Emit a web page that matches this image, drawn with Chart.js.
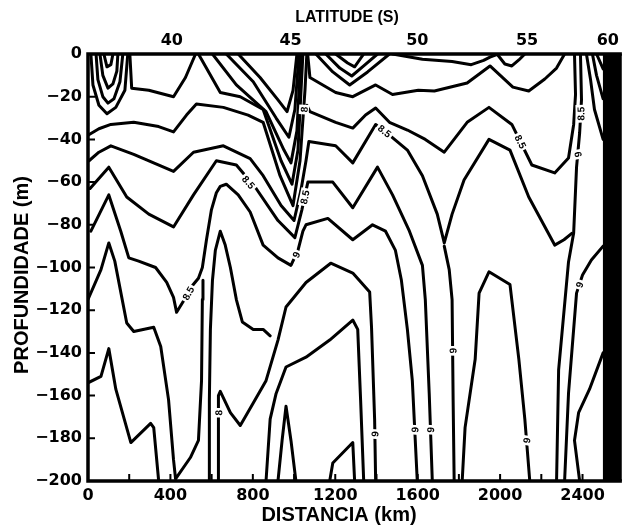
<!DOCTYPE html>
<html lang="pt">
<head>
<meta charset="UTF-8">
<title>Secção vertical - isotermas</title>
<script src="https://cdn.jsdelivr.net/npm/chart.js"></script>
<style>
    body { margin: 0; padding: 0; background: #fff; }
    #wrap { width: 623px; height: 529px; }
</style>
</head>
<body>
<div id="wrap"><canvas id="grafico" width="623" height="529"></canvas></div>
<script>
// eixos
const distTicks = [0, 400, 800, 1200, 1600, 2000, 2400];
const tickMarksKm = [200, 400, 600, 800, 1000, 1200, 1400, 1600, 1800, 2000, 2200, 2400];
const depthTicks = [0, -20, -40, -60, -80, -100, -120, -140, -160, -180, -200];
const latLabels = ['40', '45', '50', '55', '60'];
const latKm = [407, 983, 1598, 2131, 2523];
const xMax = 2591;
const terrenoKm = [2498, 2591];

// isolinhas [distancia km, profundidade m]
const eddy1a = [[14,0],[24,-14.5],[53,-24],[92,-28],[135,-25],[179,-17],[193,0]];
const eddy1b = [[39,0],[48,-12],[72,-20],[97,-23],[126,-21],[155,-13],[169,0]];
const eddy1c = [[58,0],[72,-10],[97,-16],[121,-14],[140,-8],[145,0]];
const eddy1d = [[77,0],[92,-6],[111,-5],[121,0]];
const isoA = [[203,0],[212,-16],[295,-17],[415,-20],[473,-11],[522,0]];
const eddy2a = [[729,0],[835,-11],[922,-21.5],[966,-27],[995,-17],[1014,0]];
const eddy2b = [[671,0],[802,-13],[913,-30],[975,-39],[1004,-26],[1024,0]];
const eddy2c = [[604,0],[720,-14.5],[864,-27],[951,-45],[985,-51],[1014,-36],[1033,0]];
const eddy2d = [[536,0],[642,-18],[739,-20],[850,-26],[937,-50],[990,-61],[1019,-45],[1043,0]];
const isoB = [[0,-38],[53,-35],[111,-33],[222,-32],[343,-34],[415,-36.5],[478,-28.6],[526,-23.4],[657,-25],[777,-28.6],[850,-32],[932,-57],[995,-71],[1029,-50],[1053,-17],[1062,0]];
const isoC = [[5,-50],[53,-46],[111,-43],[222,-47],[415,-55],[512,-46],[657,-43],[787,-49],[850,-57],[937,-71],[1000,-78],[1033,-64],[1058,-50],[1072,-41],[1202,-43],[1285,-51],[1396,-33],[1463,-38],[1550,-45],[1623,-57],[1695,-75],[1729,-88.5],[1767,-75],[1825,-59],[1946,-40],[2048,-45],[2139,-67],[2265,-89.5],[2310,-87],[2348,-84]];
const isoD = [[10,-63],[101,-53],[188,-67],[295,-75],[415,-81],[512,-66],[623,-50],[720,-52],[816,-63],[922,-78],[1004,-86],[1038,-73],[1067,-60],[1188,-60],[1285,-72],[1405,-53],[1478,-66],[1560,-83],[1623,-99],[1637,-115],[1656,-159],[1671,-200]];
const isoE = [[14,-83],[101,-66],[159,-83],[198,-95.5],[246,-97],[328,-100],[382,-107],[415,-114],[430,-121],[468,-115],[502,-109],[536,-105],[555,-100],[575,-87],[599,-73],[623,-65],[642,-62],[671,-61],[729,-66],[787,-74],[850,-89.5],[922,-95.5],[985,-99],[1019,-92],[1043,-83],[1058,-80],[1164,-77],[1285,-87],[1381,-80],[1444,-83],[1492,-92],[1521,-106],[1550,-129],[1574,-153],[1598,-200]];
const isoF = [[0,-115],[63,-101],[101,-88.5],[130,-97],[188,-126],[222,-130],[319,-128],[353,-137],[391,-162],[415,-190],[425,-199],[497,-189],[536,-181],[551,-153],[555,-115],[558,-106]];
const isoG = [[0,-154],[63,-151],[101,-138],[135,-157],[208,-182],[304,-173],[319,-175],[343,-200]];
const spikeA = [[589,-200],[589,-162],[594,-129],[604,-106],[618,-92],[642,-83],[666,-89.5],[691,-100],[720,-115],[749,-125.5],[802,-129],[850,-129],[884,-132]];
const domeA = [[633,-200],[633,-175],[633,-160],[642,-158],[691,-168],[739,-174],[802,-163.5],[864,-153],[922,-134],[961,-118.5],[1058,-107],[1178,-98],[1285,-102.6],[1367,-111.5],[1376,-128],[1391,-171],[1396,-200]];
const domeB = [[864,-200],[884,-171],[913,-159],[961,-146.6],[1058,-142],[1173,-134],[1285,-124.6],[1309,-129],[1323,-162],[1338,-200]];
const spikeB = [[922,-200],[942,-181],[961,-165],[985,-181],[1009,-200]];
const spikeC = [[1173,-200],[1188,-191.6],[1285,-182],[1294,-200]];
const isoY = [[1729,-90],[1753,-101],[1767,-115],[1772,-162],[1777,-200]];
const domeC = [[1816,-200],[1830,-175],[1879,-143],[1898,-112],[1946,-102],[2048,-108],[2091,-143],[2120,-171],[2144,-200]];
const isoR1 = [[1066,0],[1077,-11],[1202,-18],[1285,-20],[1396,-14.5],[1478,-19],[1603,-17],[1681,-17.3],[1840,-13.6],[1951,-5.6],[2062,-15.5],[2139,-17.3],[2217,-11.7],[2274,-6.6],[2313,0]];
const isoR2 = [[1062,-24],[1077,-27],[1202,-32],[1285,-34.7],[1347,-28.6],[1396,-25.3],[1463,-32],[1550,-35.6],[1637,-40],[1729,-46],[1840,-32],[1946,-25],[2057,-33],[2154,-52],[2265,-55.7],[2332,-48.7],[2357,-33],[2366,-19],[2361,0]];
const eddy3a = [[1106,0],[1188,-8.4],[1270,-14.5],[1357,-8.4],[1463,0]];
const eddy3b = [[1154,0],[1222,-6.6],[1280,-10.3],[1338,-5.6],[1405,0]];
const eddy3c = [[1202,0],[1260,-4.2],[1294,-6],[1338,0]];
const isoT = [[1478,0],[1623,-2.5],[1767,-3.5],[1860,-5],[1920,-3],[1951,-1.5],[1990,0]];
const eddy4 = [[1985,0],[2023,-4.7],[2057,-5.6],[2091,-2.8],[2120,0]];
const isoS1 = [[2274,-200],[2284,-148],[2332,-97.4],[2357,-83.8],[2371,-53],[2386,-37],[2395,-21.5],[2390,0]];
const isoS2 = [[2313,-200],[2332,-159],[2371,-112],[2400,-103.5],[2443,-96.5],[2500,-90]];
const isoS3 = [[2386,-200],[2361,-181],[2381,-168],[2434,-157],[2500,-140]];
const isoS4 = [[2419,0],[2439,-12],[2458,-26],[2500,-40]];
const isoS5 = [[2448,0],[2468,-10],[2500,-21]];
const isoS6 = [[2468,0],[2500,-7]];

// rotulos das isolinhas [km, m, texto, angulo]
const rotulos = [
    [780, -60, '8.5', 0.87], [1051, -67, '8.5', -1.36], [1010, -94, '9', -1.13],
    [485, -112, '8.5', -1.07], [1440, -36, '8.5', 0.66], [2100, -41, '8.5', 1.11],
    [2391, -28, '8.5', -1.6], [2377, -47, '9', -1.75], [2385, -108, '9', -1.25],
    [633, -168, '8', -1.57], [1392, -178, '9', -1.5], [1586, -176, '9', -1.5],
    [1662, -176, '9', -1.52], [1770, -139, '9', -1.55], [2128, -181, '9', -1.4],
    [1048, -26, '8', -1.5]
];

const contornos = [eddy1a, eddy1b, eddy1c, eddy1d, isoA, eddy2a, eddy2b, eddy2c, eddy2d,
    isoB, isoC, isoD, isoE, isoF, isoG, spikeA, domeA, domeB, spikeB, spikeC, isoY, domeC,
    isoR1, isoR2, eddy3a, eddy3b, eddy3c, isoT, eddy4, isoS1, isoS2, isoS3, isoS4, isoS5, isoS6];

const fonte = "'Liberation Sans', Arial, sans-serif";
const fonteNum = "'DejaVu Sans', sans-serif";
const toPts = arr => arr.map(p => ({ x: p[0], y: p[1] }));

const datasets = contornos.map(c => ({
    data: toPts(c),
    borderColor: '#000',
    borderWidth: 3,
    pointRadius: 0,
    fill: false,
    tension: 0,
    borderJoinStyle: 'round',
    borderCapStyle: 'round',
    order: 1
}));
datasets.push({
    data: [{ x: terrenoKm[0], y: 0 }, { x: terrenoKm[1], y: 0 }],
    borderWidth: 0,
    pointRadius: 0,
    backgroundColor: '#000',
    fill: { value: -200 },
    order: 0
});

const moldura = {
    id: 'moldura',
    afterDatasetsDraw(chart) {
        const { ctx, chartArea: a, scales } = chart;
        ctx.save();
        // rotulos
        ctx.font = 'bold 10px ' + fonte;
        ctx.textAlign = 'center';
        ctx.textBaseline = 'middle';
        rotulos.forEach(r => {
            const px = scales.x.getPixelForValue(r[0]);
            const py = scales.y.getPixelForValue(r[1]);
            const w = ctx.measureText(r[2]).width;
            ctx.save();
            ctx.translate(px, py);
            ctx.rotate(r[3]);
            ctx.fillStyle = '#fff';
            ctx.fillRect(-w / 2 - 2, -5, w + 4, 10);
            ctx.fillStyle = '#000';
            ctx.fillText(r[2], 0, 1);
            ctx.restore();
        });
        // moldura
        ctx.strokeStyle = '#000';
        ctx.lineWidth = 3.5;
        ctx.beginPath();
        ctx.moveTo(a.right, a.top);
        ctx.lineTo(a.left, a.top);
        ctx.lineTo(a.left, a.bottom);
        ctx.lineTo(a.right, a.bottom);
        ctx.stroke();
        // marcas para dentro
        ctx.lineWidth = 2;
        ctx.beginPath();
        tickMarksKm.forEach(v => {
            const px = scales.x.getPixelForValue(v);
            ctx.moveTo(px, a.bottom);
            ctx.lineTo(px, a.bottom - 7);
        });
        depthTicks.slice(1, -1).forEach(v => {
            const py = scales.y.getPixelForValue(v);
            ctx.moveTo(a.left, py);
            ctx.lineTo(a.left + 7, py);
        });
        ctx.stroke();
        // titulos
        ctx.fillStyle = '#000';
        ctx.textAlign = 'center';
        ctx.textBaseline = 'middle';
        ctx.font = 'bold 16px ' + fonte;
        ctx.fillText('LATITUDE (S)', 347, 18);
        ctx.font = 'bold 20px ' + fonte;
        ctx.fillText('DISTANCIA (km)', 339, 515);
        ctx.save();
        ctx.translate(22, 275);
        ctx.rotate(-Math.PI / 2);
        ctx.fillText('PROFUNDIDADE (m)', 0, 0);
        ctx.restore();
        ctx.restore();
    }
};

const tickFont = { family: fonteNum, size: 16, weight: 'bold' };

new Chart(document.getElementById('grafico').getContext('2d'), {
    type: 'line',
    data: { datasets: datasets },
    options: {
        responsive: false,
        animation: false,
        layout: { padding: 0 },
        plugins: { legend: { display: false }, tooltip: { enabled: false } },
        scales: {
            x: {
                type: 'linear', position: 'bottom', min: 0, max: xMax,
                afterBuildTicks: s => { s.ticks = distTicks.map(v => ({ value: v })); },
                afterFit: s => { s.height = 48; },
                grid: { display: false, drawTicks: false },
                border: { display: false },
                ticks: { font: tickFont, color: '#000', padding: 5, maxRotation: 0, minRotation: 0, autoSkip: false, callback: v => String(v) }
            },
            x2: {
                type: 'linear', position: 'top', min: 0, max: xMax,
                afterBuildTicks: s => { s.ticks = latKm.map(v => ({ value: v })); },
                afterFit: s => { s.height = 54; },
                grid: { display: false, drawTicks: false },
                border: { display: false },
                ticks: { font: tickFont, color: '#000', padding: 4, maxRotation: 0, minRotation: 0, autoSkip: false, callback: (v, i) => latLabels[i] }
            },
            y: {
                type: 'linear', min: -200, max: 0,
                afterBuildTicks: s => { s.ticks = depthTicks.map(v => ({ value: v })); },
                afterFit: s => { s.width = 88; },
                grid: { display: false, drawTicks: false },
                border: { display: false },
                ticks: { font: tickFont, color: '#000', padding: 6, autoSkip: false, callback: v => v === 0 ? '0' : '\u2212' + Math.abs(v) }
            }
        }
    },
    plugins: [moldura]
});
</script>
</body>
</html>
